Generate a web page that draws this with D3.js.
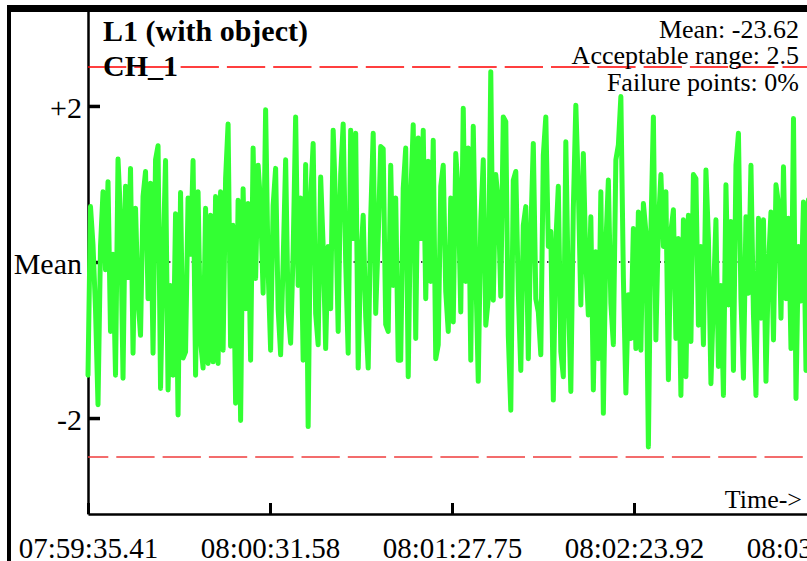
<!DOCTYPE html>
<html><head><meta charset="utf-8">
<script src="https://cdn.jsdelivr.net/npm/d3@7"></script>
<style>body{margin:0;background:#fff}svg{display:block}</style>
</head><body>
<svg id="c" width="807" height="561"></svg>
<script>
const titleLines = ["L1 (with object)", "CH_1"];
const meanValue = -23.62;
const acceptableRange = 2.5;
const failurePoints = "0%";
const xTickLabels = ["07:59:35.41", "08:00:31.58", "08:01:27.75", "08:02:23.92", "08:03:20.09"];
const yTickValues = [2, 0, -2];
const yTickLabels = ["+2", "Mean", "-2"];
// deviation from the mean
const deviations = [
 -1.45, 0.71, 0.22, -0.6, -1.83, 0.2, 0.90, -0.1, 1.03, -0.89, 0.1, -1.45, 1.32, 0.58, -1.49, 0.97, -0.2, 1.20, -1.17, 0.69, -0.47, -0.94, 0.84, 1.16, -0.47, 1.01, -1.17, 1.31, 1.49, -1.62, 0.0, 1.30, -1.64, -0.3, -1.45, 0.62, -1.96, 0.89, -1.23, -1.15, 0.82, 0.1, 1.30, -1.45, 0.90, -1.02, -1.36, 0.69,
 -1.3, 0.60, -1.28, 0.84, -1.3, 0.90, -1.13, 1.07, 1.77, -1.08, 0.47, -1.81, 0.79, -2.03, 0.94, -0.6, 0.75, -1.26, 1.46, -0.21, 1.24, 0.73, -0.40, 1.95, -0.1, -1.13, 0.73, 1.20, -0.6, -1.19, 0.0, 1.31, -0.64, -1.04, 0.13, 1.86, -0.30, 0.82, -1.26, 1.25, -2.11, 0.82, 1.52, -0.66, -1.06, 1.09, 0.20, -1.11,
 0.2, -0.6, 1.69, 0.73, -0.89, 1.12, 1.77, 0.0, -1.17, 1.69, 0.3, 1.65, -1.36, 0.0, 0.6, -0.7, -1.36, 0.56, 1.65, -0.66, 0.3, 1.48, 1.45, -0.8, -0.89, 1.24, -0.3, 0.82, -1.26, -1.26, 0.94, 1.46, -1.47, 0.82, 1.76, -0.98, 1.59, 0.3, 1.69, -0.47, 1.29, -0.25, 1.56, -1.24, -1.06, 0.97, 1.24, -0.38,
 -0.89, 0.82, -0.77, 1.39, 0.9, -0.64, 1.97, -0.25, 1.46, -1.26, 1.74, -0.1, -1.53, 0.52, 1.31, -0.81, -0.47, 2.44, -0.49, 1.12, 0.77, -0.44, 1.86, 1.80, -0.94, -1.90, 1.05, 1.16, -0.38, -1.39, 0.47, 0.71, -1.24, 0.37, 1.52, -0.47, -0.64, -1.19, 1.37, 1.86, 0.2, 0.39, -1.77, 0.26, 0.97, -1.15, -1.47, 1.54,
 -0.38, -1.66, 0.69, 2.01, 0.94, -0.55, 1.39, 0.0, -0.68, 0.58, -1.64, 0.13, -1.24, 0.9, -1.94, 0.22, 1.05, -0.53, -1.06, 1.31, 1.5, 2.12, -0.2, -1.68, -0.42, -0.98, 0.43, -1.11, 0.64, -1.13, 0.75, 0.39, -2.37, 0.39, 1.86, -1.0, 0.47, 1.12, 0.2, 0.9, -1.51, 0.39, 0.67, -0.98, 0.3, -1.71, 0.54, -1.47,
 0.6, -1.02, 1.12, 1.07, -0.81, 0.2, -1.06, 1.18, 0.3, -1.56, -0.47, 0.54, -1.34, -0.3, -1.71, 0.99, -0.55, 0.52, -1.39, 1.24, 1.65, -0.47, -1.49, 0.58, -0.4, 1.24, -0.68, -1.71, 0.56, -0.72, 0.54, -1.53, -0.04, 0.64, -1.0, 0.99, 0.75, -0.72, 1.22, -0.47, 0.56, -1.11, 1.84, -1.75, 0.2, -0.5, 0.77, -1.39,
 0.8, -0.6, 1.1, -0.9
];

function toSec(s) { const p = s.split(":"); return +p[0] * 3600 + +p[1] * 60 + +p[2]; }
const tStart = toSec(xTickLabels[0]), tEnd = toSec(xTickLabels[xTickLabels.length - 1]);
const series = deviations.map((d, i) => ({ t: tStart + (tEnd - tStart) * i / (deviations.length - 1), v: d }));

const svg = d3.select("#c");
const font = "'Liberation Serif','Times New Roman',Times,serif";
const x = d3.scaleLinear().domain([tStart, tEnd]).range([88, 816]);
const y = d3.scaleLinear().domain([-3.23, 3.23]).range([514, 10]);

svg.append("rect").attr("width", 807).attr("height", 561).attr("fill", "#fff");
// frame
svg.append("rect").attr("x", 7).attr("y", 5).attr("width", 800).attr("height", 7).attr("fill", "#000");
svg.append("rect").attr("x", 7).attr("y", 5).attr("width", 4).attr("height", 556).attr("fill", "#000");

// axes
const gy = svg.append("g").attr("transform", "translate(88,0)")
  .call(d3.axisLeft(y).tickValues(yTickValues).tickFormat((d, i) => yTickLabels[i]).tickSizeInner(-12).tickSizeOuter(0).tickPadding(6));
gy.select(".domain").attr("stroke", "#000").attr("stroke-width", 2.5);
gy.selectAll(".tick line").attr("stroke", "#000").attr("stroke-width", 3.5);
gy.selectAll(".tick text").attr("font-family", font).attr("font-size", 30).attr("fill", "#000").attr("dy", "0.38em");

const gx = svg.append("g").attr("transform", "translate(0,514)")
  .call(d3.axisBottom(x).tickValues(xTickLabels.map(toSec)).tickFormat((d, i) => xTickLabels[i]).tickSizeInner(-11).tickSizeOuter(0));
gx.select(".domain").attr("stroke", "#000").attr("stroke-width", 2.5);
gx.selectAll(".tick line").attr("stroke", "#000").attr("stroke-width", 3);
gx.selectAll(".tick text").attr("font-family", font).attr("font-size", 29).attr("fill", "#000").attr("y", 43.5).attr("dy", 0);

// mean line
svg.append("line").attr("x1", x(tStart)).attr("x2", x(tEnd)).attr("y1", y(0)).attr("y2", y(0))
  .attr("stroke", "#000").attr("stroke-width", 1.5).attr("stroke-dasharray", "1.5,3");

// acceptable range lines
svg.append("line").attr("x1", x(tStart)).attr("x2", x(tEnd)).attr("y1", y(acceptableRange)).attr("y2", y(acceptableRange))
  .attr("stroke", "#ff0000").attr("stroke-width", 1.5).attr("stroke-dasharray", "38.3,8");
svg.append("line").attr("x1", x(tStart)).attr("x2", x(tEnd)).attr("y1", y(-acceptableRange)).attr("y2", y(-acceptableRange))
  .attr("stroke", "#f03c3c").attr("stroke-width", 1.5).attr("stroke-dasharray", "38.3,8").attr("stroke-dashoffset", 18);

// data line
svg.append("path").datum(series)
  .attr("d", d3.line().x(d => x(d.t)).y(d => y(d.v)))
  .attr("fill", "none").attr("stroke", "#33ff33").attr("stroke-width", 5)
  .attr("stroke-linejoin", "round").attr("stroke-linecap", "round");

// texts
svg.append("text").attr("x", 103).attr("y", 41).attr("font-family", font).attr("font-weight", "bold").attr("font-size", 30).text(titleLines[0]);
svg.append("text").attr("x", 103).attr("y", 76).attr("font-family", font).attr("font-weight", "bold").attr("font-size", 30).text(titleLines[1]);
const info = ["Mean: " + meanValue.toFixed(2), "Acceptable range: " + acceptableRange, "Failure points: " + failurePoints];
const infoY = [38, 63.5, 90.5];
info.forEach((t, i) => svg.append("text").attr("x", 799).attr("y", infoY[i]).attr("text-anchor", "end")
  .attr("font-family", font).attr("font-size", 26).text(t));
svg.append("text").attr("x", 802).attr("y", 508).attr("text-anchor", "end").attr("font-family", font).attr("font-size", 26).text("Time->");
</script>
</body></html>
